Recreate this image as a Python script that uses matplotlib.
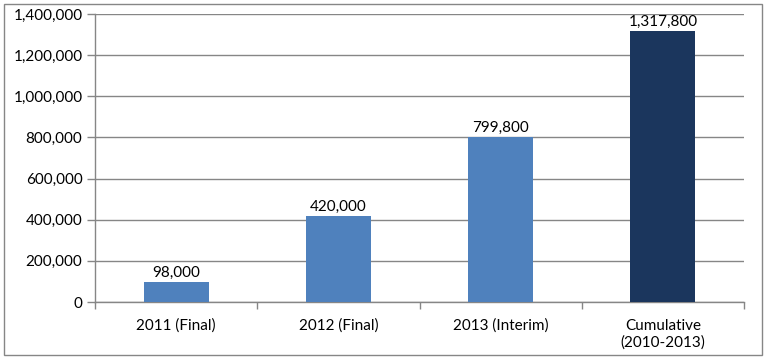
import matplotlib.pyplot as plt
from matplotlib.patches import Rectangle
from matplotlib.ticker import FuncFormatter, FixedLocator

# data
categories = ["2011 (Final)", "2012 (Final)", "2013 (Interim)", "Cumulative\n(2010-2013)"]
values = [98000, 420000, 799800, 1317800]
colors = ["#4F81BD", "#4F81BD", "#4F81BD", "#1B365D"]

plt.rcParams["font.family"] = ["Lato", "DejaVu Sans"]
grey = "#868686"
fs = 11

fig = plt.figure(figsize=(7.67, 3.62), dpi=100)
ax = fig.add_axes([95 / 767, 1 - 302 / 362, (744 - 95) / 767, (302 - 14) / 362])

x = list(range(len(categories)))
bars = ax.bar(x, values, width=0.4, color=colors, zorder=3)

for b, v in zip(bars, values):
    ax.annotate(f"{v:,}", (b.get_x() + b.get_width() / 2, v), xytext=(0, 1.5),
                textcoords="offset points", ha="center", va="bottom", fontsize=fs)

ax.set_xlim(-0.5, len(categories) - 0.5)
ax.set_ylim(0, 1400000)
ax.set_yticks(range(0, 1400001, 200000))
ax.yaxis.set_major_formatter(FuncFormatter(lambda v, p: f"{int(v):,}"))
ax.yaxis.grid(True, color=grey, linewidth=1, zorder=0)

ax.set_xticks(x)
ax.set_xticklabels(categories, fontsize=fs)
ax.xaxis.set_minor_locator(FixedLocator([i - 0.5 for i in range(len(categories) + 1)]))
ax.tick_params(axis="x", which="major", length=0, pad=12)
ax.tick_params(axis="x", which="minor", length=5, color=grey, width=1)
ax.tick_params(axis="y", length=6, color=grey, width=1, labelsize=fs, pad=3)

for s in ["top", "right"]:
    ax.spines[s].set_visible(False)
for s in ["left", "bottom"]:
    ax.spines[s].set_color(grey)
    ax.spines[s].set_linewidth(1)

# outer chart border
fig.patches.append(Rectangle((4 / 767, 1 - 355 / 362), 758 / 767, 351 / 362,
                             transform=fig.transFigure, fill=False,
                             edgecolor=grey, linewidth=1))

fig.savefig("out.png", dpi=100)
